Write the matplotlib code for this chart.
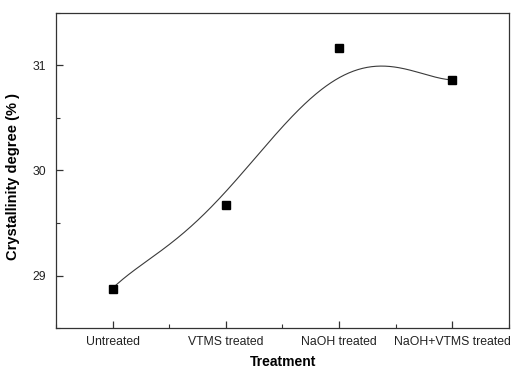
import numpy as np
import matplotlib
matplotlib.use("Agg")
import matplotlib.pyplot as plt
from matplotlib.ticker import MultipleLocator

plt.rcParams['font.family'] = ['Liberation Sans', 'DejaVu Sans']

# measured points
treatments = ["Untreated", "VTMS treated", "NaOH treated", "NaOH+VTMS treated"]
crystallinity = [28.876, 29.676, 31.17, 30.857]

# smoothed trend line
curve_x = [1.0, 1.25, 1.5, 1.75, 2.0, 2.25, 2.5, 2.75, 3.0, 3.25, 3.5, 3.75, 4.0]
curve_y = [28.876, 29.10, 29.30, 29.52, 29.79, 30.10, 30.43, 30.70, 30.87,
           30.97, 30.985, 30.93, 30.857]

fig = plt.figure(figsize=(5.13, 3.69), dpi=100)
ax = fig.add_axes([0.109, 0.111, 0.883, 0.854])

pos = np.arange(1, len(treatments) + 1)

# smooth the read-off line with a low-order poly fit
coef = np.polyfit(curve_x, curve_y, 5)
xs = np.linspace(curve_x[0], curve_x[-1], 300)
ax.plot(xs, np.polyval(coef, xs), color='#3a3a3a', lw=0.8)

ax.plot(pos, crystallinity, 's', color='black', ms=5.5, zorder=3)

ax.set_xlim(0.5, 4.5)
ax.set_ylim(28.5, 31.5)
ax.set_xticks(pos)
ax.set_xticklabels(treatments)
ax.xaxis.set_minor_locator(MultipleLocator(0.5))
ax.yaxis.set_major_locator(MultipleLocator(1))
ax.yaxis.set_minor_locator(MultipleLocator(0.5))

ax.tick_params(which='both', direction='in', top=False, right=False,
               color='#333333', labelcolor='#222222', labelsize=8.8)
ax.tick_params(which='major', length=5, width=0.9)
ax.tick_params(which='minor', length=3, width=0.8)
ax.tick_params(axis='x', which='major', pad=6)
ax.tick_params(axis='y', which='major', pad=7)

for s in ax.spines.values():
    s.set_color('#333333')
    s.set_linewidth(0.9)

ax.set_xlabel("Treatment", fontsize=10, fontweight='bold')
ax.set_ylabel("Crystallinity degree (% )", fontsize=10.5, fontweight='bold')
ax.xaxis.set_label_coords(0.501, -0.085)
ax.yaxis.set_label_coords(-0.08, 0.48)

fig.savefig("out.png", dpi=100)
